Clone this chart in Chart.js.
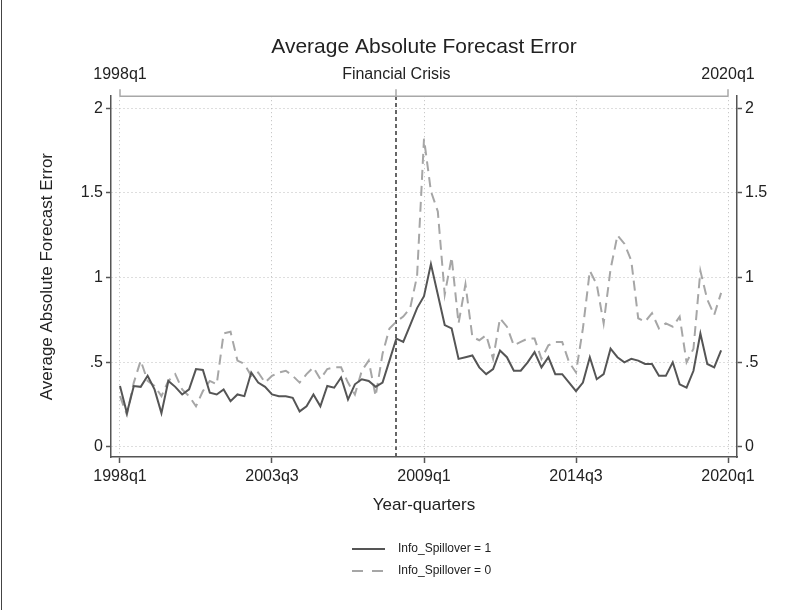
<!DOCTYPE html>
<html>
<head>
<meta charset="utf-8">
<title>Average Absolute Forecast Error</title>
<script src="https://cdn.jsdelivr.net/npm/chart.js@4.4.0/dist/chart.umd.min.js"></script>
<style>
  html, body { margin: 0; padding: 0; background: #fff; }
  #wrap { width: 799px; height: 610px; position: relative; }
</style>
</head>
<body>
<div id="wrap"><canvas id="chart" width="799" height="610"></canvas></div>
<script>
// Quarter index 0 = 1998q1 ... 87 = 2019q4
const startYear = 1998;

// Info_Spillover = 1 (solid)
const spillover1 = [
  0.36, 0.20, 0.36, 0.355, 0.42, 0.34, 0.20, 0.39, 0.355, 0.31,
  0.34, 0.46, 0.455, 0.32, 0.31, 0.34, 0.27, 0.31, 0.30, 0.44,
  0.38, 0.355, 0.31, 0.30, 0.30, 0.29, 0.21, 0.24, 0.31, 0.24,
  0.36, 0.35, 0.41, 0.28, 0.37, 0.40, 0.39, 0.355, 0.38, 0.51,
  0.64, 0.62, 0.72, 0.82, 0.89, 1.08, 0.90, 0.72, 0.70, 0.52,
  0.53, 0.54, 0.47, 0.43, 0.46, 0.57, 0.53, 0.45, 0.45, 0.50,
  0.56, 0.47, 0.53, 0.43, 0.43, 0.38, 0.33, 0.38, 0.53, 0.40,
  0.43, 0.58, 0.53, 0.50, 0.52, 0.51, 0.49, 0.49, 0.42, 0.42,
  0.50, 0.37, 0.35, 0.45, 0.67, 0.49, 0.47, 0.57
];

// Info_Spillover = 0 (dashed)
const spillover0 = [
  0.30, 0.19, 0.38, 0.51, 0.39, 0.36, 0.30, 0.39, 0.43, 0.34,
  0.30, 0.24, 0.33, 0.39, 0.37, 0.67, 0.68, 0.51, 0.49, 0.42,
  0.44, 0.38, 0.42, 0.44, 0.45, 0.42, 0.38, 0.43, 0.47, 0.40,
  0.46, 0.47, 0.47, 0.38, 0.31, 0.45, 0.51, 0.30, 0.55, 0.70,
  0.74, 0.77, 0.82, 1.01, 1.82, 1.51, 1.39, 0.90, 1.12, 0.73,
  0.96, 0.65, 0.63, 0.66, 0.52, 0.76, 0.71, 0.60, 0.62, 0.64,
  0.64, 0.52, 0.60, 0.62, 0.62, 0.50, 0.44, 0.70, 1.04, 0.96,
  0.73, 1.05, 1.25, 1.20, 1.10, 0.76, 0.74, 0.79, 0.70, 0.73,
  0.71, 0.77, 0.50, 0.58, 1.04, 0.87, 0.78, 0.91
];

// Axis ticks
const xTickValues = [0, 22, 44, 66, 88];
const xTickLabels = ['1998q1', '2003q3', '2009q1', '2014q3', '2020q1'];
const topTickValues = [0, 40, 88];
const topTickLabels = ['1998q1', 'Financial Crisis', '2020q1'];
const yTickValues = [0, 0.5, 1, 1.5, 2];
const yTickLabels = ['0', '.5', '1', '1.5', '2'];
const crisisQuarter = 40; // 2008q1

// Colors
const colors = {
  solid: '#555555',
  dashed: '#a6a6a6',
  axis: '#555555',
  topAxis: '#a8a8a8',
  grid: '#bdbdbd',
  text: '#222222'
};

const FONT = '"Liberation Sans", Arial, Helvetica, sans-serif';
Chart.defaults.font.family = FONT;
Chart.defaults.color = colors.text;

// Build {x, y} points from quarter index
function toPoints(values) {
  return values.map((v, i) => ({ x: i, y: v }));
}

function setTicks(values) {
  return scale => { scale.ticks = values.map(v => ({ value: v })); };
}

// Stata-style legend below the plot
const stataLegend = {
  id: 'stataLegend',
  afterDraw(chart) {
    const ctx = chart.ctx;
    const dashes = [[], [11, 9]];
    chart.data.datasets.forEach((ds, i) => {
      const y = 549 + i * 22;
      ctx.save();
      ctx.strokeStyle = ds.borderColor;
      ctx.lineWidth = ds.borderWidth;
      ctx.setLineDash(dashes[i]);
      ctx.beginPath();
      ctx.moveTo(352, y);
      ctx.lineTo(385, y);
      ctx.stroke();
      ctx.setLineDash([]);
      ctx.fillStyle = colors.text;
      ctx.font = '12px ' + FONT;
      ctx.textBaseline = 'middle';
      ctx.fillText(ds.label, 398, y);
      ctx.restore();
    });
  }
};

// Top axis line spans only between its first and last tick
const topAxisLine = {
  id: 'topAxisLine',
  afterDraw(chart) {
    const s = chart.scales.x2;
    const ctx = chart.ctx;
    ctx.save();
    ctx.strokeStyle = colors.topAxis;
    ctx.lineWidth = 1.5;
    ctx.beginPath();
    ctx.moveTo(s.getPixelForValue(topTickValues[0]), s.bottom);
    ctx.lineTo(s.getPixelForValue(topTickValues[topTickValues.length - 1]), s.bottom);
    ctx.stroke();
    // frame edge on the left
    ctx.strokeStyle = '#444';
    ctx.lineWidth = 1;
    ctx.beginPath();
    ctx.moveTo(1.5, 0);
    ctx.lineTo(1.5, 610);
    ctx.stroke();
    ctx.restore();
  }
};

const xMin = -1.3, xMax = 89.3;
const yMin = -0.0592, yMax = 2.071;

new Chart(document.getElementById('chart'), {
  type: 'line',
  data: {
    datasets: [
      {
        label: 'Info_Spillover = 1',
        data: toPoints(spillover1),
        borderColor: colors.solid,
        borderWidth: 2,
        pointRadius: 0,
        tension: 0,
        fill: false
      },
      {
        label: 'Info_Spillover = 0',
        data: toPoints(spillover0),
        borderColor: colors.dashed,
        borderWidth: 2,
        borderDash: [10, 6],
        pointRadius: 0,
        tension: 0,
        fill: false
      }
    ]
  },
  options: {
    responsive: false,
    animation: false,
    layout: { padding: { left: 30, right: 0, top: 0, bottom: 90 } },
    plugins: {
      legend: { display: false },
      tooltip: { enabled: false },
      title: {
        display: true,
        fullSize: false,
        text: 'Average Absolute Forecast Error',
        color: colors.text,
        font: { size: 21, weight: 'normal', family: FONT },
        padding: { top: 35, bottom: 0 }
      }
    },
    scales: {
      x: {
        type: 'linear',
        position: 'bottom',
        min: xMin,
        max: xMax,
        afterBuildTicks: setTicks(xTickValues),
        afterFit: s => { s.height = 63; },
        ticks: {
          autoSkip: false,
          maxRotation: 0,
          padding: 4,
          font: { size: 16 },
          color: colors.text,
          callback: v => xTickLabels[xTickValues.indexOf(v)]
        },
        grid: {
          color: colors.grid,
          lineWidth: 1,
          tickColor: colors.axis,
          tickLength: 6,
          tickWidth: 1.5
        },
        border: { color: colors.axis, width: 1.5, dash: [1, 3] },
        title: {
          display: true,
          text: 'Year-quarters',
          font: { size: 17 },
          color: colors.text,
          padding: { top: 0, bottom: 4 }
        }
      },
      x2: {
        type: 'linear',
        position: 'top',
        min: xMin,
        max: xMax,
        afterBuildTicks: setTicks(topTickValues),
        afterFit: s => { s.height = 36; },
        ticks: {
          autoSkip: false,
          maxRotation: 0,
          padding: 5,
          font: { size: 16 },
          color: colors.text,
          callback: v => topTickLabels[topTickValues.indexOf(v)]
        },
        grid: {
          drawOnChartArea: true,
          color: c => (c.tick && c.tick.value === crisisQuarter) ? '#666666' : 'rgba(0,0,0,0)',
          lineWidth: 2,
          tickColor: colors.topAxis,
          tickLength: 7,
          tickWidth: 1.5
        },
        border: { display: false, dash: [4, 3] }
      },
      y: {
        type: 'linear',
        position: 'left',
        min: yMin,
        max: yMax,
        afterBuildTicks: setTicks(yTickValues),
        afterFit: s => { s.width = 81; },
        ticks: {
          padding: 3,
          font: { size: 16 },
          color: colors.text,
          callback: v => yTickLabels[yTickValues.indexOf(v)]
        },
        grid: {
          color: colors.grid,
          lineWidth: 1,
          tickColor: colors.axis,
          tickLength: 5,
          tickWidth: 1.5
        },
        border: { color: colors.axis, width: 1.5, dash: [1, 3] },
        title: {
          display: true,
          text: 'Average Absolute Forecast Error',
          font: { size: 17 },
          color: colors.text,
          padding: { top: 7, bottom: 0 }
        }
      },
      y2: {
        type: 'linear',
        position: 'right',
        min: yMin,
        max: yMax,
        afterBuildTicks: setTicks(yTickValues),
        afterFit: s => { s.width = 62; },
        ticks: {
          padding: 3,
          font: { size: 16 },
          color: colors.text,
          callback: v => yTickLabels[yTickValues.indexOf(v)]
        },
        grid: {
          drawOnChartArea: false,
          tickColor: colors.axis,
          tickLength: 5,
          tickWidth: 1.5
        },
        border: { color: colors.axis, width: 1.5 }
      }
    }
  },
  plugins: [stataLegend, topAxisLine]
});
</script>
</body>
</html>
